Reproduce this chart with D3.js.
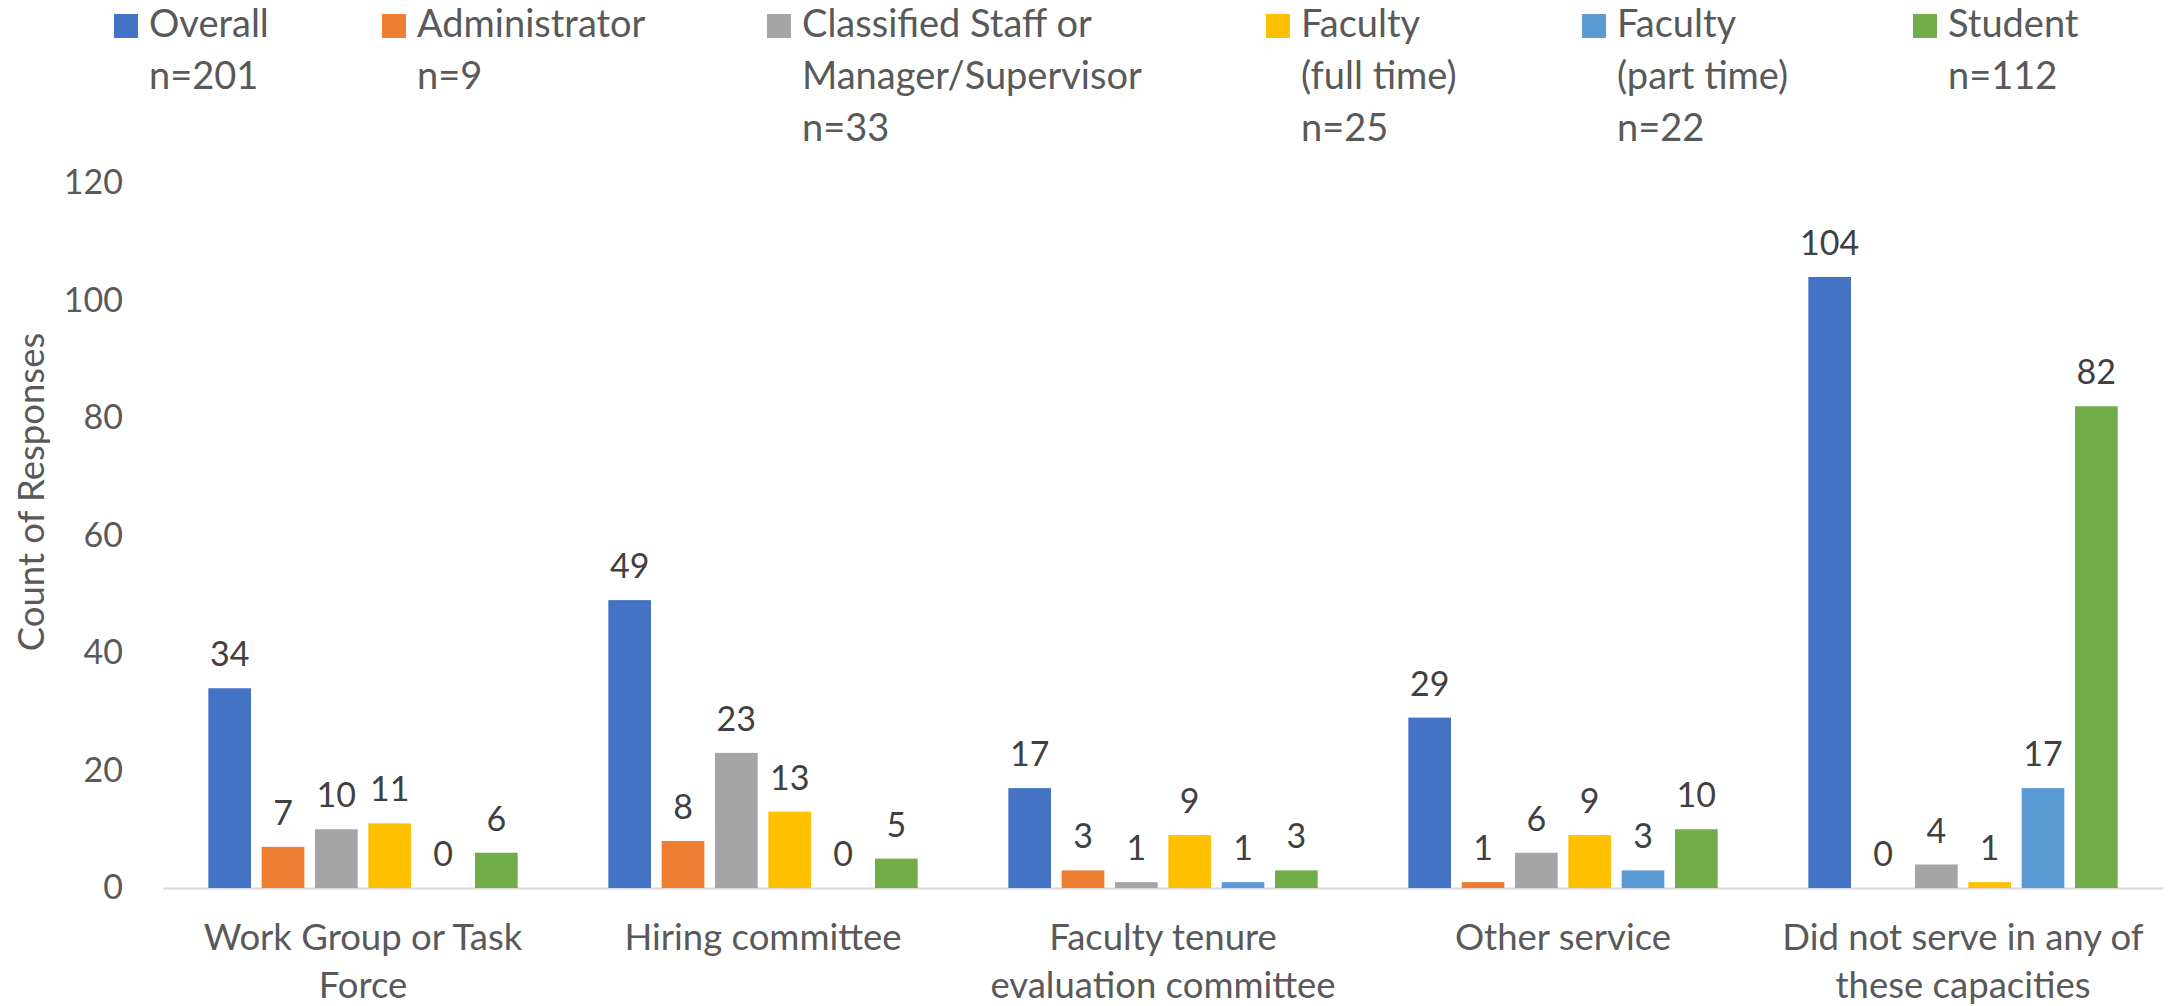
<!DOCTYPE html>
<html>
<head>
<meta charset="utf-8">
<script src="https://cdn.jsdelivr.net/npm/d3@7"></script>
<style>
  html, body { margin: 0; padding: 0; background: #ffffff; }
  svg { display: block; }
  text { font-family: Lato, "Open Sans", sans-serif; }
</style>
</head>
<body>
<svg id="chart" width="2175" height="1006"></svg>
<script>
// ---- data ----
const categories = [
  "Work Group or Task\nForce",
  "Hiring committee",
  "Faculty tenure\nevaluation committee",
  "Other service",
  "Did not serve in any of\nthese capacities"
];
const seriesNames = [
  "Overall\nn=201",
  "Administrator\nn=9",
  "Classified Staff or\nManager/Supervisor\nn=33",
  "Faculty\n(full time)\nn=25",
  "Faculty\n(part time)\nn=22",
  "Student\nn=112"
];
const overall      = [34, 49, 17, 29, 104];
const administrator = [7, 8, 3, 1, 0];
const classified   = [10, 23, 1, 6, 4];
const facultyFull  = [11, 13, 9, 9, 1];
const facultyPart  = [0, 0, 1, 3, 17];
const student      = [6, 5, 3, 10, 82];
const yTicks = [0, 20, 40, 60, 80, 100, 120];
const yTitle = "Count of Responses";

const seriesValues = [overall, administrator, classified, facultyFull, facultyPart, student];
const colors = ["#4472C4", "#ED7D31", "#A5A5A5", "#FFC000", "#5B9BD5", "#70AD47"];

// ---- layout ----
const W = 2175, H = 1006;
const plot = { left: 163, right: 2163, top: 183, bottom: 888 };
const textSize = 36.5, legendSize = 38, digitSize = 34;
const textColor = "#595959", labelColor = "#404040";
const legendX = [114, 382, 767, 1266, 1582, 1913];

const svg = d3.select("#chart");
svg.append("rect").attr("width", W).attr("height", H).attr("fill", "#fff");

const x0 = d3.scaleBand().domain(d3.range(categories.length))
  .range([plot.left, plot.right]).paddingInner(0.2).paddingOuter(0.1);
const x1 = d3.scaleBand().domain(d3.range(seriesValues.length))
  .range([0, x0.bandwidth()]).paddingInner(0.2).paddingOuter(0.1);
const y = d3.scaleLinear().domain([0, 120]).range([plot.bottom, plot.top]);

// y axis
const yAxis = svg.append("g").attr("transform", `translate(${plot.left},0)`)
  .call(d3.axisLeft(y).tickValues(yTicks).tickSize(0).tickPadding(40));
yAxis.select(".domain").remove();
yAxis.selectAll("text")
  .attr("font-family", "Lato, sans-serif")
  .attr("font-size", digitSize)
  .attr("fill", textColor);

// x axis
const xAxis = svg.append("g").attr("transform", `translate(0,${plot.bottom})`)
  .call(d3.axisBottom(x0).tickSize(0).tickSizeOuter(0).tickFormat(""));
xAxis.select(".domain").attr("stroke", "#D9D9D9").attr("stroke-width", 2);
xAxis.selectAll(".tick text").remove();

// bars
const groups = svg.append("g").selectAll("g")
  .data(categories.map((c, i) => i))
  .join("g")
  .attr("transform", i => `translate(${x0(i)},0)`);

groups.selectAll("rect")
  .data(i => seriesValues.map((s, k) => ({ k, v: s[i] })))
  .join("rect")
  .attr("x", d => x1(d.k))
  .attr("width", x1.bandwidth())
  .attr("y", d => y(d.v))
  .attr("height", d => y(0) - y(d.v))
  .attr("fill", d => colors[d.k]);

groups.selectAll("text.val")
  .data(i => seriesValues.map((s, k) => ({ k, v: s[i] })))
  .join("text")
  .attr("class", "val")
  .attr("x", d => x1(d.k) + x1.bandwidth() / 2)
  .attr("y", d => y(d.v) - 22)
  .attr("text-anchor", "middle")
  .attr("font-size", digitSize)
  .attr("fill", labelColor)
  .text(d => d.v);

// category labels
const catLabels = svg.append("g").selectAll("text")
  .data(categories)
  .join("text")
  .attr("text-anchor", "middle")
  .attr("font-size", textSize)
  .attr("fill", textColor)
  .attr("transform", (d, i) => `translate(${x0(i) + x0.bandwidth() / 2},950)`);
catLabels.selectAll("tspan")
  .data(d => d.split("\n"))
  .join("tspan")
  .attr("x", 0)
  .attr("y", (d, j) => j * 48)
  .text(d => d);

// y title
svg.append("text")
  .attr("transform", "translate(44,492) rotate(-90)")
  .attr("text-anchor", "middle")
  .attr("font-size", textSize)
  .attr("fill", textColor)
  .text(yTitle);

// legend
const legend = svg.append("g");
seriesNames.forEach((name, k) => {
  const g = legend.append("g").attr("transform", `translate(${legendX[k]},0)`);
  g.append("rect").attr("x", 0).attr("y", 14).attr("width", 24).attr("height", 24)
    .attr("fill", colors[k]);
  const t = g.append("text").attr("font-size", legendSize).attr("fill", textColor);
  name.split("\n").forEach((ln, j) => {
    t.append("tspan").attr("x", 35).attr("y", 37 + j * 52).text(ln);
  });
});
</script>
</body>
</html>
